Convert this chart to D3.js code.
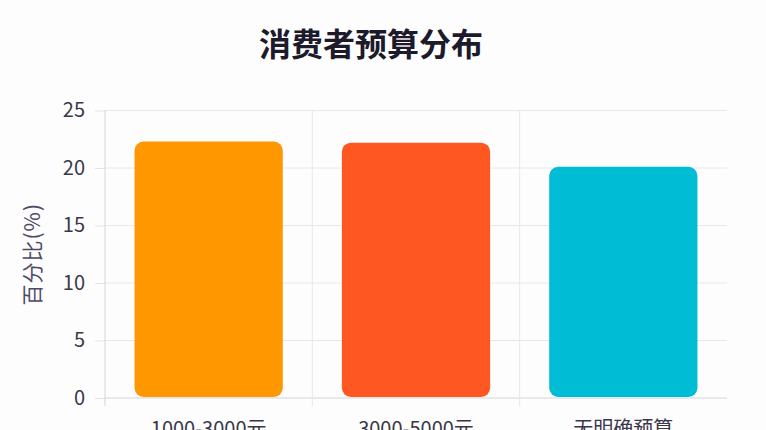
<!DOCTYPE html>
<meta charset="utf-8">
<style>
  body { margin: 0; background: #fdfdfe; }
  text { font-family: "Noto Sans CJK SC", "Noto Sans", sans-serif; }
</style>

<!-- Load d3.js -->
<script src="https://d3js.org/d3.v7.min.js"></script>

<!-- Create a div where the graph will take place -->
<div id="my_dataviz"></div>

<script>

    // data
    var categories = ["1000-3000元", "3000-5000元", "无明确预算"];
    var values = [22.3, 22.2, 20.1];
    var barColors = ["#FF9800", "#FF5722", "#00BCD4"];
    var yTicks = [0, 5, 10, 15, 20, 25];

    var W = 766, H = 430;
    var margin = {top: 110.5, right: 39, bottom: 32, left: 105},
        width = W - margin.left - margin.right,
        height = H - margin.top - margin.bottom;

    var svg = d3.select("#my_dataviz")
      .append("svg")
        .attr("width", W)
        .attr("height", H);

    // title
    svg.append("text")
      .attr("x", 371)
      .attr("y", 56)
      .attr("text-anchor", "middle")
      .attr("font-size", "32px")
      .attr("font-weight", "bold")
      .attr("fill", "#1c1a2b")
      .text("消费者预算分布");

    var g = svg.append("g")
      .attr("transform", "translate(" + margin.left + "," + margin.top + ")");

    // scales
    var xGrid = d3.scaleBand()
      .domain(categories)
      .range([0, width]);
    var xBar = d3.scaleBand()
      .domain(categories)
      .range([0, width])
      .paddingInner(0.285)
      .paddingOuter(0.1425);
    var y = d3.scaleLinear()
      .domain([0, 25])
      .range([height, 0]);

    // horizontal grid + y ticks
    var yAxis = g.append("g")
      .call(d3.axisLeft(y).tickValues(yTicks).tickSize(10).tickPadding(10));
    yAxis.select(".domain").remove();
    yAxis.selectAll(".tick line").attr("stroke", "#e3e2ea");
    yAxis.selectAll(".tick text")
      .attr("font-size", "20px")
      .attr("fill", "#3a3748");

    g.append("g")
      .selectAll("line")
      .data(yTicks)
      .enter().append("line")
        .attr("x1", 0)
        .attr("x2", width)
        .attr("y1", function(d) { return y(d); })
        .attr("y2", function(d) { return y(d); })
        .attr("stroke", function(d) { return d === 0 ? "#d4d3dc" : "#e8e7ee"; })
        .attr("stroke-width", 1);

    // vertical grid at band edges (offset style)
    var edges = categories.map(function(c) { return xGrid(c); });
    g.append("g")
      .selectAll("line")
      .data(edges)
      .enter().append("line")
        .attr("x1", function(d) { return d; })
        .attr("x2", function(d) { return d; })
        .attr("y1", 0)
        .attr("y2", height + 8)
        .attr("stroke", function(d, i) { return i === 0 ? "#d4d3dc" : "#e8e7ee"; })
        .attr("stroke-width", 1);

    // bars
    g.selectAll("rect.bar")
      .data(values)
      .enter().append("rect")
        .attr("class", "bar")
        .attr("x", function(d, i) { return xBar(categories[i]); })
        .attr("y", function(d) { return y(d); })
        .attr("width", xBar.bandwidth())
        .attr("height", function(d) { return y(0) - y(d) - 1; })
        .attr("rx", 9)
        .attr("ry", 9)
        .attr("fill", function(d, i) { return barColors[i]; });

    // x labels (cut by the bottom edge, as in the picture)
    g.selectAll("text.xlab")
      .data(categories)
      .enter().append("text")
        .attr("class", "xlab")
        .attr("x", function(d) { return xGrid(d) + xGrid.bandwidth() / 2; })
        .attr("y", height + 38)
        .attr("text-anchor", "middle")
        .attr("font-size", "20px")
        .attr("fill", "#3a3748")
        .text(function(d) { return d; });

    // y label
    svg.append("text")
      .attr("transform", "translate(40," + (margin.top + height / 2) + ") rotate(-90)")
      .attr("text-anchor", "middle")
      .attr("font-size", "21px")
      .attr("letter-spacing", "1px")
      .attr("fill", "#4f4966")
      .text("百分比(%)");

</script>
